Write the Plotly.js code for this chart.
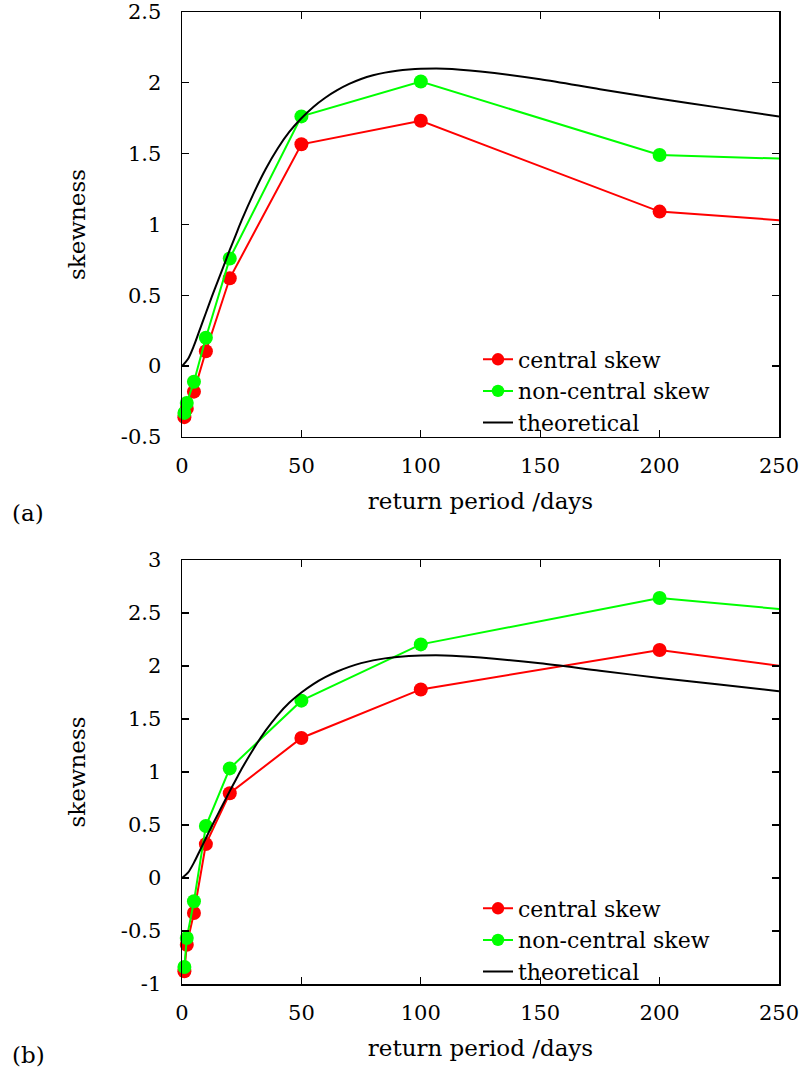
<!DOCTYPE html>
<html>
<head>
<meta charset="utf-8">
<script src="https://cdn.plot.ly/plotly-3.0.1.min.js"></script>
<style>html,body{margin:0;padding:0;background:#fff;}#chart{width:804px;height:1076px;}</style>
</head>
<body>
<div id="chart"></div>
<script>
// Return period (days)
const periods = [1, 2, 5, 10, 20, 50, 100, 200, 300];
// Panel (a)
const centralA    = [-0.36, -0.30, -0.18, 0.105, 0.62, 1.566, 1.732, 1.091, 0.97];
const noncentralA = [-0.33, -0.26, -0.11, 0.20, 0.76, 1.763, 2.009, 1.49, 1.44];
// Panel (b)
const centralB    = [-0.88, -0.63, -0.33, 0.32, 0.80, 1.321, 1.779, 2.151, 1.855];
const noncentralB = [-0.84, -0.566, -0.22, 0.49, 1.034, 1.673, 2.204, 2.642, 2.434];
// Theoretical curve
const theoX = [0, 2.5, 5, 7.5, 10, 12.5, 15, 17.5, 20, 22.5, 25, 30, 35, 40, 45, 50, 55, 60, 65, 70, 75, 80, 85, 90, 95, 100, 110, 125, 150, 175, 200, 225, 250];
const theoY = [0, 0.05, 0.145, 0.26, 0.375, 0.49, 0.6, 0.71, 0.82, 0.925, 1.03, 1.22, 1.39, 1.535, 1.655, 1.75, 1.83, 1.895, 1.948, 1.992, 2.027, 2.053, 2.072, 2.085, 2.094, 2.099, 2.1, 2.08, 2.025, 1.955, 1.888, 1.825, 1.763];
const legendNames = ['central skew', 'non-central skew', 'theoretical'];
const xTicks = [0, 50, 100, 150, 200, 250];
const yTicksA = [-0.5, 0, 0.5, 1, 1.5, 2, 2.5];
const yTicksB = [-1, -0.5, 0, 0.5, 1, 1.5, 2, 2.5, 3];
const xTitle = 'return period /days';
const yTitle = 'skewness';

const FONT = 'DejaVu Serif, serif';
const TXT = 23;
const TICK = 21;
const XMAX = 250;
const msize = periods.map(p => p <= XMAX ? 14 : 0);

function pointTrace(y, color, name, xa, ya, leg) {
  return {
    x: periods, y: y, name: name, type: 'scatter', mode: 'lines+markers',
    xaxis: xa, yaxis: ya, legend: leg, cliponaxis: false,
    line: {color: color, width: 2},
    marker: {color: color, size: msize, symbol: 'circle', opacity: 1, line: {width: 0}}
  };
}
function theoTrace(xa, ya, leg) {
  return {
    x: theoX, y: theoY, name: legendNames[2], type: 'scatter', mode: 'lines',
    xaxis: xa, yaxis: ya, legend: leg,
    line: {color: '#000', width: 2, shape: 'spline', smoothing: 0.8}
  };
}

const data = [
  pointTrace(centralA, '#ff0000', legendNames[0], 'x', 'y', 'legend'),
  pointTrace(noncentralA, '#00ff00', legendNames[1], 'x', 'y', 'legend'),
  theoTrace('x', 'y', 'legend'),
  pointTrace(centralB, '#ff0000', legendNames[0], 'x2', 'y2', 'legend2'),
  pointTrace(noncentralB, '#00ff00', legendNames[1], 'x2', 'y2', 'legend2'),
  theoTrace('x2', 'y2', 'legend2')
];

function xAxis(anchor) {
  return {
    anchor: anchor, range: [0, XMAX], tickvals: xTicks, ticktext: xTicks.map(String),
    ticks: 'inside', ticklen: 7, tickwidth: 1.3, tickcolor: '#000',
    showline: true, linecolor: '#000', linewidth: 1.5, mirror: 'ticks',
    showgrid: false, zeroline: false, ticklabelstandoff: 9,
    tickfont: {family: FONT, size: TICK, color: '#000'},
    title: {text: xTitle, font: {family: FONT, size: TXT, color: '#000'}, standoff: 16},
    automargin: false
  };
}
function yAxis(anchor, range, ticks, domain) {
  return {
    anchor: anchor, range: range, domain: domain, tickvals: ticks, ticktext: ticks.map(String),
    ticks: 'inside', ticklen: 7, tickwidth: 1.3, tickcolor: '#000',
    showline: true, linecolor: '#000', linewidth: 1.5, mirror: 'ticks',
    showgrid: false, zeroline: false, ticklabelstandoff: 15,
    tickfont: {family: FONT, size: TICK, color: '#000'},
    title: {text: yTitle, font: {family: FONT, size: TXT, color: '#000'}, standoff: 28},
    automargin: false
  };
}

const plotH = 1076 - 12 - 92;
const plotW = 804 - 182 - 25;
const legFont = {family: FONT, size: 22, color: '#000'};

const layout = {
  width: 804, height: 1076,
  margin: {l: 182, r: 25, t: 12, b: 92},
  paper_bgcolor: '#fff', plot_bgcolor: '#fff',
  font: {family: FONT, color: '#000', size: TXT},
  showlegend: true,
  xaxis: xAxis('y'),
  yaxis: yAxis('x', [-0.5, 2.5], yTicksA, [0.5628, 1]),
  xaxis2: xAxis('y2'),
  yaxis2: yAxis('x2', [-1, 3], yTicksB, [0, 0.4362]),
  legend: {x: (478 - 182) / plotW, y: 1 - (391 - 12) / plotH, xanchor: 'left', yanchor: 'middle',
           bgcolor: 'rgba(0,0,0,0)', font: legFont, tracegroupgap: 0, itemwidth: 30},
  legend2: {x: (478 - 182) / plotW, y: 1 - (940 - 12) / plotH, xanchor: 'left', yanchor: 'middle',
           bgcolor: 'rgba(0,0,0,0)', font: legFont, tracegroupgap: 0, itemwidth: 30},
  annotations: [
    {text: '(a)', xref: 'paper', yref: 'paper', x: (28 - 182) / plotW, y: 1 - (513 - 12) / plotH,
     showarrow: false, xanchor: 'center', yanchor: 'middle', font: {family: FONT, size: TXT, color: '#000'}},
    {text: '(b)', xref: 'paper', yref: 'paper', x: (28 - 182) / plotW, y: 1 - (1055 - 12) / plotH,
     showarrow: false, xanchor: 'center', yanchor: 'middle', font: {family: FONT, size: TXT, color: '#000'}}
  ]
};

Plotly.newPlot('chart', data, layout, {displayModeBar: false, staticPlot: true});
</script>
</body>
</html>
